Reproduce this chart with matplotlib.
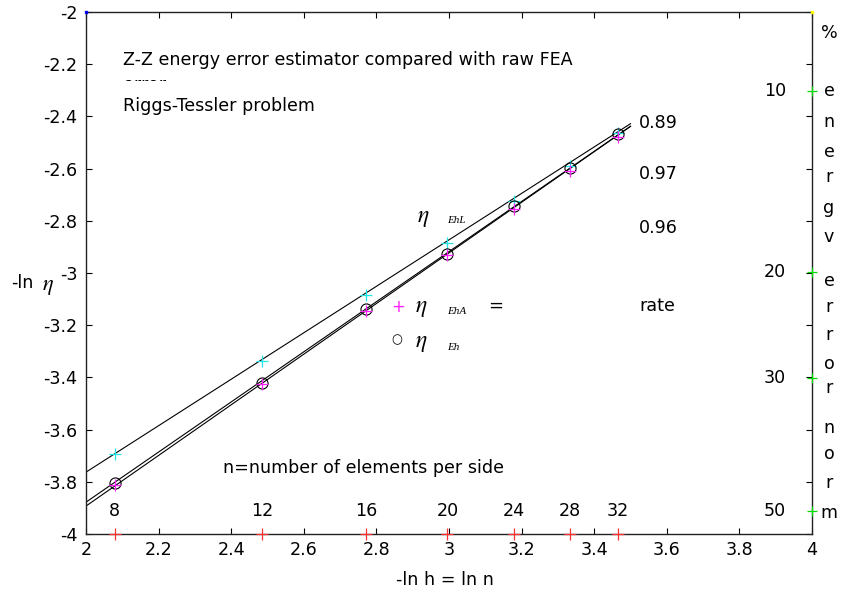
import numpy as np
import matplotlib
matplotlib.use("Agg")
import matplotlib.pyplot as plt
from matplotlib.patches import Rectangle

# ---------------- data ----------------
n_elem = [8, 12, 16, 20, 24, 28, 32]
eta_EhL = [-3.693, -3.337, -3.084, -2.886, -2.723, -2.589, -2.465]
eta_EhA = [-3.812, -3.424, -3.146, -2.932, -2.754, -2.608, -2.480]
eta_Eh = [-3.806, -3.420, -3.139, -2.927, -2.743, -2.596, -2.469]
rates = [0.89, 0.97, 0.96]            # slopes of fitted lines: EhL, EhA, Eh
fit_start = [-3.763, -3.893, -3.878]  # fitted-line values at x = 2
fit_x = [2.0, 3.5]
rate_labels = ["0.89", "0.97", "0.96"]
right_pct = [10, 20, 30, 50]
x_ticks = [2.0, 2.2, 2.4, 2.6, 2.8, 3.0, 3.2, 3.4, 3.6, 3.8, 4.0]
x_tick_labels = ["2", "2.2", "2.4", "2.6", "2.8", "3", "3.2", "3.4", "3.6", "3.8", "4"]
y_ticks = [-4.0, -3.8, -3.6, -3.4, -3.2, -3.0, -2.8, -2.6, -2.4, -2.2, -2.0]
y_tick_labels = ["-4", "-3.8", "-3.6", "-3.4", "-3.2", "-3", "-2.8", "-2.6", "-2.4", "-2.2", "-2"]
right_letters = ["%", "e", "n", "e", "r", "g", "v", "e", "r", "r", "o", "r", "n", "o", "r", "m"]

# ---------------- layout ----------------
W, H = 843, 592
plt.rcParams["font.family"] = ["DejaVu Sans"]
plt.rcParams["mathtext.fontset"] = "stix"
FS = 12.6

fig = plt.figure(figsize=(W / 100, H / 100), dpi=100)
L, R, T, B = 86, 812, 12, 534
ax = fig.add_axes([L / W, 1 - B / H, (R - L) / W, (B - T) / H])


def fx(p):
    return p / W


def fy(p):
    return 1 - p / H


x = np.log(n_elem)
ax.set_xlim(2, 4)
ax.set_ylim(-4, -2)

# fitted lines
xl = np.array(fit_x)
for b, r in zip(fit_start, rates):
    ax.plot(xl, b + r * (xl - 2.0), color="black", lw=0.8, zorder=2)

# points
ax.plot(x, eta_EhL, ls="none", marker="+", ms=9, mew=0.9, color="#22e6e6", zorder=4)
ax.plot(x, eta_Eh, ls="none", marker="o", ms=8, mew=0.8, mfc="none", mec="black", zorder=4)
ax.plot(x, eta_EhA, ls="none", marker="+", ms=8, mew=0.9, color="#ff22ff", zorder=5)

# red markers on bottom axis and n labels
ax.plot(x, [-4] * len(x), ls="none", marker="+", ms=8, mew=0.9, color="#ff3030",
        clip_on=False, zorder=6)
for xi, ni in zip(x, n_elem):
    ax.text(xi, -3.911, str(ni), ha="center", va="center", fontsize=FS)

# right axis labels (percent energy error norm)
ypct = -np.log(right_pct)
ax.plot([4] * len(ypct), ypct, ls="none", marker="+", ms=7, mew=0.9, color="#00dd00",
        clip_on=False, zorder=6)
for yp, p in zip(ypct, right_pct):
    ax.text(3.898, yp, str(p), ha="center", va="center", fontsize=FS)

# corner dots
ax.plot([2], [-2], marker="s", ms=2, mfc="none", mec="blue", clip_on=False, zorder=7)
ax.plot([4], [-2], marker="s", ms=2, mfc="yellow", mec="yellow", clip_on=False, zorder=7)

# ticks
ax.set_xticks(x_ticks)
ax.set_xticklabels(x_tick_labels)
ax.set_yticks(y_ticks)
ax.set_yticklabels(y_tick_labels)
ax.tick_params(direction="in", length=4.5, width=0.8, top=True, right=True,
               labelsize=FS, color="black")
ax.tick_params(axis="x", pad=5)
ax.tick_params(axis="y", pad=6)
for s in ax.spines.values():
    s.set_linewidth(1.0)
    s.set_color("#222222")

# texts
fig.text(fx(122.7), fy(60), "Z-Z energy error estimator compared with raw FEA",
         ha="left", va="center", fontsize=FS, zorder=3)
fig.text(fx(122.7), fy(89.5), "error", ha="left", va="baseline", fontsize=FS, zorder=3)
fig.patches.append(Rectangle((fx(115), fy(97)), fx(80), fy(81.5) - fy(97),
                             transform=fig.transFigure, facecolor="white",
                             edgecolor="none", zorder=4))
fig.text(fx(122.7), fy(106), "Riggs-Tessler problem", ha="left", va="center",
         fontsize=FS, zorder=5)

for lab, yp in zip(rate_labels, [123, 174, 228]):
    fig.text(fx(639), fy(yp), lab, ha="left", va="center", fontsize=FS)
fig.text(fx(639), fy(306), "rate", ha="left", va="center", fontsize=FS)

sub_kw = dict(ha="left", va="center", fontsize=8, family="Liberation Serif", style="italic")
fig.text(fx(423), fy(217), r"$\eta$", ha="center", va="center", fontsize=17)
fig.text(fx(447), fy(221), "EhL", **sub_kw)

fig.text(fx(397.7), fy(307.3), "+", ha="center", va="center", fontsize=12, color="#ff22ff")
fig.text(fx(421.7), fy(307), r"$\eta$", ha="center", va="center", fontsize=17)
fig.text(fx(446.7), fy(312), "EhA", **sub_kw)
fig.text(fx(496), fy(306), "=", ha="center", va="center", fontsize=13)

fig.text(fx(396.7), fy(340), "\u25cb", ha="center", va="center", fontsize=9)
fig.text(fx(421.7), fy(342), r"$\eta$", ha="center", va="center", fontsize=17)
fig.text(fx(446.7), fy(347), "Eh", **sub_kw)

fig.text(fx(222.7), fy(468), "n=number of elements per side", ha="left", va="center",
         fontsize=FS)

# axis labels
fig.text(fx(445), fy(580), "-ln h = ln n", ha="center", va="center", fontsize=FS)
fig.text(fx(11), fy(283), "-ln", ha="left", va="center", fontsize=FS)
fig.text(fx(48), fy(287), r"$\eta$", ha="center", va="center", fontsize=16)

# vertical right text
letter_y = [33, 91, 122, 152, 177, 208, 237, 281, 307, 335, 364, 388, 428, 454, 483, 513]
for ch, yp in zip(right_letters, letter_y):
    fig.text(fx(829), fy(yp), ch, ha="center", va="center", fontsize=FS)

fig.savefig("out.png", dpi=100)
